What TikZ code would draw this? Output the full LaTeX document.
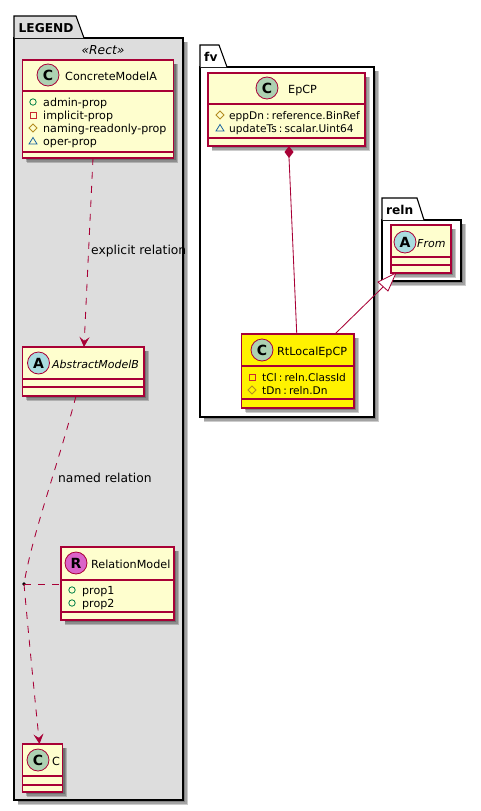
\documentclass[tikz,border=0pt]{standalone}
\usepackage{fontspec}
\setmainfont{DejaVu Sans}
\usetikzlibrary{arrows.meta,calc}
\definecolor{umlborder}{HTML}{A80036}
\definecolor{umlfill}{HTML}{FEFECE}
\definecolor{pkggray}{HTML}{DDDDDD}
\definecolor{spotc}{HTML}{ADD1B2}
\definecolor{spota}{HTML}{A9DCDF}
\definecolor{spotr}{HTML}{DA63C8}
\definecolor{icopub}{HTML}{038048}
\definecolor{icopriv}{HTML}{C82930}
\definecolor{icoprot}{HTML}{B38D22}
\definecolor{icopkg}{HTML}{1963A0}
\newcommand{\tsp}{\hskip .2em\relax}
\tikzset{
  box/.style={draw=umlborder,line width=1.05pt,inner sep=0pt,outer sep=0pt,rectangle},
  pkgbody/.style={draw=black,line width=1.1pt,inner sep=0pt,outer sep=0pt,rectangle},
  pkgtab/.style={draw=black,line width=1.1pt,line join=miter},
  divider/.style={draw=umlborder,line width=1.05pt},
  shadowpiece/.style={fill=black,fill opacity=.2,draw=none},
  spot/.style={circle,draw=umlborder,line width=.8pt,minimum size=22pt,inner sep=0pt,font=\bfseries\fontsize{14}{14}\selectfont},
  title/.style={inner sep=0pt,anchor=base west,font=\fontsize{11.2}{12}\selectfont},
  ititle/.style={title,font=\fontsize{11}{12}\selectfont\itshape},
  attr/.style={inner sep=0pt,anchor=base west,font=\fontsize{11.1}{12}\selectfont},
  attrtight/.style={inner sep=0pt,anchor=base west,font=\fontsize{10.6}{12}\selectfont},
  rel/.style={inner sep=0pt,anchor=base west,font=\fontsize{12.3}{13}\selectfont},
  pkgname/.style={inner sep=0pt,anchor=base west,font=\bfseries\fontsize{12.2}{13}\selectfont},
  conn/.style={draw=umlborder,line width=.85pt},
  dashline/.style={conn,dash pattern=on 7pt off 7pt},
  openhead/.style={-{Stealth[length=10pt,width=10pt,inset=4pt,fill=umlborder]}}
}
% #1 x1, #2 y1, #3 x2, #4 y2 : soft drop shadow
\newcommand{\softshadow}[4]{%
  \foreach \o/\g in {1.5/1.6,2.5/1,3.5/.4,4/0}{%
    \fill[shadowpiece] ({#1+\o+\g},{#2+\o+\g}) rectangle ({#3+\o-\g+.5},{#4+\o-\g+.5});}}
% #1 name, #2 x1, #3 y1, #4 x2, #5 y2, #6 fill, #7 y divider 1, #8 y divider 2
\newcommand{\umlclass}[8]{%
  \softshadow{#2}{#3}{#4}{#5}
  \node[box,fill=#6,minimum width={(#4-#2)*1pt},minimum height={(#5-#3)*1pt}] (#1) at ({(#2+#4)/2},{(#3+#5)/2}) {};
  \draw[divider] (#1.west |- 0,#7) -- (#1.east |- 0,#7);
  \draw[divider] (#1.west |- 0,#8) -- (#1.east |- 0,#8);}
\newcommand{\icpub}[2]{\draw[icopub,line width=.8pt] (#1,#2) circle (3.2);}
\newcommand{\icpriv}[2]{\draw[icopriv,line width=.8pt] (#1-3,#2-3) rectangle (#1+3,#2+3);}
\newcommand{\icprot}[2]{\draw[icoprot,line width=.8pt] (#1-4,#2) -- (#1,#2-4) -- (#1+4,#2) -- (#1,#2+4) -- cycle;}
\newcommand{\icpkg}[2]{\draw[icopkg,line width=.8pt] (#1-4,#2+3) -- (#1,#2-3.5) -- (#1+4,#2+3) -- cycle;}
\begin{document}
\begin{tikzpicture}[x=1pt,y=-1pt]
\useasboundingbox (0,0) rectangle (481,811);
\fill[white] (0,0) rectangle (481,811);

% LEGEND package
\softshadow{14}{38}{183}{800}
\node[pkgbody,fill=pkggray,minimum width=169pt,minimum height=762pt] (legend) at (98.5,419) {};
\draw[pkgtab,fill=pkggray] (14,38) -- (14,16) -- (76,16) -- (84,38);
\node[pkgname] (legendname) at (18.5,32) {LEGEND};
\node[inner sep=0pt,anchor=base,font=\itshape\fontsize{12.3}{13}\selectfont] (rectst) at (103,54) {«Rect»};

% fv package
\softshadow{200}{67}{374}{417}
\node[pkgbody,fill=white,minimum width=174pt,minimum height=350pt] (fv) at (287,242) {};
\draw[pkgtab,fill=white] (200,67) -- (200,45) -- (219,45) -- (227,67);
\node[pkgname] (fvname) at (204,61) {fv};

% reln package
\softshadow{382}{220}{461}{281}
\node[pkgbody,fill=white,minimum width=79pt,minimum height=61pt] (relnpkg) at (421.5,250.5) {};
\draw[pkgtab,fill=white] (382,220) -- (382,198) -- (417,198) -- (424,220);
\node[pkgname] (relnname) at (386,214) {reln};

% classes
\umlclass{concrete}{22.5}{60}{173.5}{158}{umlfill}{91}{152}
\node[spot,fill=spotc] (s1) at (48,75) {C};
\node[title] (t1) at (65,80) {ConcreteModelA};
\icpub{33}{102}\node[attr] (a11) at (43,106) {admin-prop};
\icpriv{33}{115}\node[attr] (a12) at (43,119) {implicit-prop};
\icprot{33}{128}\node[attr] (a13) at (43,132) {naming-readonly-prop};
\icpkg{33}{141}\node[attr] (a14) at (43,145) {oper-prop};

\umlclass{abstract}{22.5}{347}{144}{396}{umlfill}{379}{387}
\node[spot,fill=spota] (s2) at (38.5,363) {A};
\node[ititle] (t2) at (52,368) {AbstractModelB};

\umlclass{relation}{61}{547}{174}{620}{umlfill}{580}{612}
\node[spot,fill=spotr] (s3) at (76,563) {R};
\node[title] (t3) at (91,568) {RelationModel};
\icpub{72}{590}\node[attr] (a31) at (82,594) {prop1};
\icpub{72}{603}\node[attr] (a32) at (82,607) {prop2};

\umlclass{cc}{22.5}{744}{62.5}{792}{umlfill}{776}{785}
\node[spot,fill=spotc] (s4) at (38,760) {C};
\node[title] (t4) at (52,765) {C};

\umlclass{epcp}{208}{73}{365}{146}{umlfill}{104}{138}
\node[spot,fill=spotc] (s5) at (267,88) {C};
\node[title] (t5) at (288,93) {EpCP};
\icprot{220}{115}\node[attrtight] (a51) at (229,119) {eppDn\tsp:\tsp reference.BinRef};
\icpkg{220}{128}\node[attrtight] (a52) at (229,132) {updateTs\tsp:\tsp scalar.Uint64};

\umlclass{rtlocal}{241.5}{334}{354}{408}{yellow}{366}{399}
\node[spot,fill=spotc] (s6) at (262,350) {C};
\node[title] (t6) at (277,355) {RtLocalEpCP};
\icpriv{252}{377}\node[attrtight] (a61) at (262,381) {tCl\tsp:\tsp reln.ClassId};
\icprot{252}{390}\node[attrtight] (a62) at (262,394) {tDn\tsp:\tsp reln.Dn};

\umlclass{from}{391}{225}{451}{273}{umlfill}{257}{265}
\node[spot,fill=spota] (s7) at (405,242) {A};
\node[ititle] (t7) at (417,247) {From};

% connectors
\node[circle,fill=black,inner sep=0pt,minimum size=3.6pt] (dot) at (24,584) {};
\draw[dashline,openhead] ([xshift=-5pt]concrete.south) -- ([xshift=.75pt]abstract.north) ;
\node[rel] (l1) at (91,254) {explicit relation};
\draw[dashline] ([xshift=-7.25pt]abstract.south) .. controls (58,465) and (32,535) .. (dot.center);
\node[rel] (l2) at (58,482) {named relation};
\draw[dashline,openhead] (dot.center) .. controls (29,640) and (35,700) .. ([xshift=-3pt]cc.north);
\draw[dashline] (dot.center) -- (relation.west |- dot);
% composition
\draw[conn] ([xshift=2pt]epcp.south) -- ([xshift=-1pt,yshift=0pt]rtlocal.north);
\fill[umlborder] ([xshift=2.5pt]epcp.south) -- ++(4.5,6) -- ++(-4.5,6) -- ++(-4.5,-6) -- cycle;
% generalisation
\coordinate (tip) at ([xshift=5pt]from.south west);
\draw[conn] ([xshift=37.25pt]rtlocal.north) -- ($(tip)+(-13,14)$);
\draw[conn,fill=white] (tip) -- ++(-18,9) -- ++(10,9) -- cycle;
\end{tikzpicture}
\end{document}
